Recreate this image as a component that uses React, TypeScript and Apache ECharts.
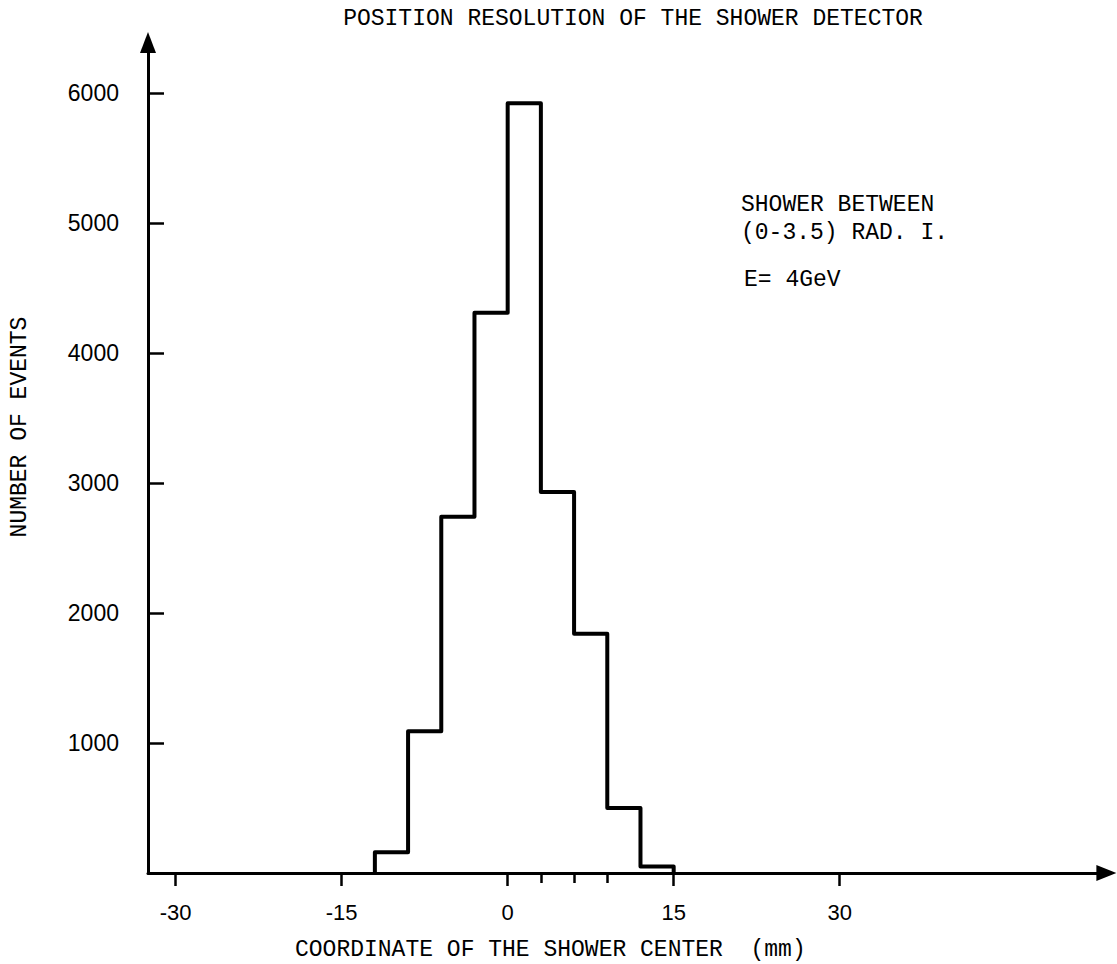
import React, { useEffect, useRef } from "react";
import * as echarts from "echarts";

// Histogram bins (mm) and the number of events in each bin
const binEdges = [-12, -9, -6, -3, 0, 3, 6, 9, 12, 15];
const eventCounts = [160, 1090, 2740, 4310, 5920, 2930, 1840, 500, 50];

// Axis tick positions
const xMajorTicks = [-30, -15, 0, 15, 30];
const xMinorTicks = [3, 6, 9];
const yTicks = [1000, 2000, 3000, 4000, 5000, 6000];

const titleText = "POSITION RESOLUTION OF THE SHOWER DETECTOR";
const xAxisTitle = "COORDINATE OF THE SHOWER CENTER  (mm)";
const yAxisTitle = "NUMBER OF EVENTS";
const noteLines = ["SHOWER BETWEEN", "(0-3.5) RAD. I."];
const energyNote = "E= 4GeV";

const MONO = "'Liberation Mono', 'DejaVu Sans Mono', monospace";
const SANS = "'Liberation Sans', Arial, sans-serif";

function histogramOutline(): number[][] {
  const pts: number[][] = [[binEdges[0], 0]];
  eventCounts.forEach((c, i) => {
    pts.push([binEdges[i], c]);
    pts.push([binEdges[i + 1], c]);
  });
  pts.push([binEdges[binEdges.length - 1], 0]);
  return pts;
}

export default function App() {
  const ref = useRef<HTMLDivElement>(null);

  useEffect(() => {
    if (!ref.current) return;
    const chart = echarts.init(ref.current, undefined, { renderer: "svg" });
    const black = "#000";
    const plain = (v: number) => String(v);
    chart.setOption({
      animation: false,
      backgroundColor: "#fff",
      grid: { left: 148, right: 10.6, top: 42.5, bottom: 91 },
      xAxis: [
        {
          type: "value",
          min: -32.5,
          max: 54.1,
          position: "bottom",
          splitLine: { show: false },
          axisLine: {
            onZero: false,
            symbol: ["none", "triangle"],
            symbolSize: [16, 20],
            lineStyle: { color: black, width: 3 },
          },
          axisTick: {
            customValues: xMajorTicks,
            length: 13,
            lineStyle: { color: black, width: 2.5 },
          },
          axisLabel: {
            customValues: xMajorTicks,
            formatter: plain,
            margin: 28,
            color: black,
            fontFamily: SANS,
            fontSize: 22,
          },
        },
        {
          type: "value",
          min: -32.5,
          max: 54.1,
          position: "bottom",
          splitLine: { show: false },
          axisLine: { show: false, onZero: false },
          axisTick: {
            customValues: xMinorTicks,
            length: 10,
            lineStyle: { color: black, width: 2.5 },
          },
          axisLabel: { show: false },
        },
      ],
      yAxis: {
        type: "value",
        min: 0,
        max: 6388,
        splitLine: { show: false },
        axisLine: {
          show: true,
          onZero: false,
          symbol: ["none", "triangle"],
          symbolSize: [16, 21],
          lineStyle: { color: black, width: 3 },
        },
        axisTick: {
          show: true,
          inside: true,
          customValues: yTicks,
          length: 16,
          lineStyle: { color: black, width: 2.5 },
        },
        axisLabel: {
          customValues: yTicks,
          formatter: plain,
          margin: 29,
          color: black,
          fontFamily: SANS,
          fontSize: 23,
        },
      },
      series: [
        {
          type: "line",
          xAxisIndex: 0,
          data: histogramOutline(),
          symbol: "none",
          lineStyle: { color: black, width: 4, join: "round", cap: "round" },
        },
      ],
      graphic: [
        {
          type: "text",
          x: 633,
          y: 19,
          style: {
            text: titleText,
            fill: black,
            font: `23px ${MONO}`,
            align: "center",
            verticalAlign: "middle",
          },
        },
        {
          type: "text",
          x: 295,
          y: 950,
          style: {
            text: xAxisTitle,
            fill: black,
            font: `23px ${MONO}`,
            align: "left",
            verticalAlign: "middle",
          },
        },
        {
          type: "text",
          x: 20,
          y: 427,
          rotation: Math.PI / 2,
          style: {
            text: yAxisTitle,
            fill: black,
            font: `23px ${MONO}`,
            align: "center",
            verticalAlign: "middle",
          },
        },
        ...noteLines.map((t, i) => ({
          type: "text",
          x: 741,
          y: 205 + i * 28,
          style: {
            text: t,
            fill: black,
            font: `23px ${MONO}`,
            align: "left",
            verticalAlign: "middle",
          },
        })),
        {
          type: "text",
          x: 744,
          y: 280,
          style: {
            text: energyNote,
            fill: black,
            font: `23px ${MONO}`,
            align: "left",
            verticalAlign: "middle",
          },
        },
      ],
    });
    return () => chart.dispose();
  }, []);

  return (
    <div
      ref={ref}
      style={{ position: "fixed", left: 0, top: 0, width: 1117, height: 964, background: "#fff" }}
    />
  );
}
